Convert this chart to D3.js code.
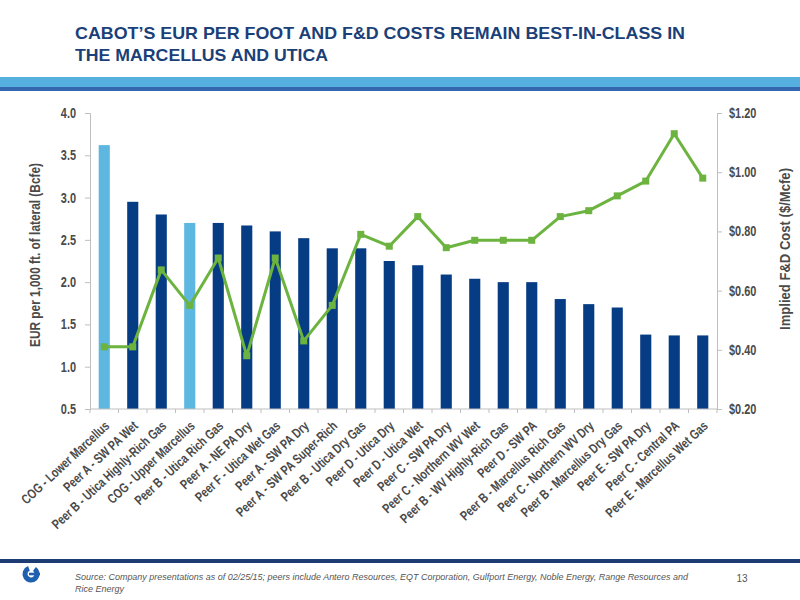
<!DOCTYPE html>
<html>
<head>
<meta charset="utf-8">
<script src="https://cdn.jsdelivr.net/npm/d3@7"></script>
<style>
  body { margin: 0; background: #fff; }
  svg { display: block; }
</style>
</head>
<body>
<div id="chart"></div>
<script>
/*global d3 */
// Well categories (x axis)
var categories = [
    "COG - Lower Marcellus", "Peer A - SW PA Wet", "Peer B - Utica Highly-Rich Gas",
    "COG - Upper Marcellus", "Peer B - Utica Rich Gas", "Peer A - NE PA Dry",
    "Peer F - Utica Wet Gas", "Peer A - SW PA Dry", "Peer A - SW PA Super-Rich",
    "Peer B - Utica Dry Gas", "Peer D - Utica Dry", "Peer D - Utica Wet",
    "Peer C - SW PA Dry", "Peer C - Northern WV Wet", "Peer B - WV Highly-Rich Gas",
    "Peer D - SW PA", "Peer B - Marcellus Rich Gas", "Peer C - Northern WV Dry",
    "Peer B - Marcellus Dry Gas", "Peer E - SW PA Dry", "Peer C - Central PA",
    "Peer E - Marcellus Wet Gas"
];
// EUR per 1,000 ft of lateral (Bcfe), bars
var eur = [3.62, 2.95, 2.80, 2.70, 2.70, 2.67, 2.60, 2.52, 2.40, 2.40, 2.25,
    2.20, 2.09, 2.04, 2.00, 2.00, 1.80, 1.74, 1.70, 1.38, 1.37, 1.37];
// Implied F&D cost ($/Mcfe), line
var fdCost = [0.41, 0.41, 0.67, 0.55, 0.71, 0.38, 0.71, 0.43, 0.55, 0.79, 0.75,
    0.85, 0.745, 0.77, 0.77, 0.77, 0.85, 0.87, 0.92, 0.97, 1.13, 0.98];
var leftTicks = [0.5, 1.0, 1.5, 2.0, 2.5, 3.0, 3.5, 4.0];
var rightTicks = [0.20, 0.40, 0.60, 0.80, 1.00, 1.20];

var width = 800,
    height = 600,
    margin = {top: 113, right: 83, bottom: 191, left: 90},
    widthInside = width - margin.left - margin.right,
    heightInside = height - margin.top - margin.bottom,
    navy = "#063c84",
    cogBlue = "#5db7e0",
    green = "#6cb33f",
    axisGrey = "#bfbfbf",
    textGrey = "#4a4a4a",
    font = "'Liberation Sans', Arial, sans-serif";

// squeeze text horizontally to mimic the condensed font of the slide
function condense(sel, k) {
    sel.each(function () {
        var len = this.getComputedTextLength();
        d3.select(this)
            .attr("textLength", len * k)
            .attr("lengthAdjust", "spacingAndGlyphs");
    });
}

var svg = d3.select("#chart").append("svg")
    .attr("width", width)
    .attr("height", height);

// Title
svg.append("text")
    .attr("x", 75).attr("y", 39)
    .attr("font-family", font)
    .attr("font-weight", "bold")
    .attr("font-size", 17)
    .attr("fill", "#1b3f78")
    .attr("textLength", 610)
    .attr("lengthAdjust", "spacingAndGlyphs")
    .text("CABOT\u2019S EUR PER FOOT AND F&D COSTS REMAIN BEST-IN-CLASS IN");
svg.append("text")
    .attr("x", 75).attr("y", 61)
    .attr("font-family", font)
    .attr("font-weight", "bold")
    .attr("font-size", 17)
    .attr("fill", "#1b3f78")
    .attr("textLength", 253)
    .attr("lengthAdjust", "spacingAndGlyphs")
    .text("THE MARCELLUS AND UTICA");

// Header bands
svg.append("rect").attr("x", 0).attr("y", 77).attr("width", width).attr("height", 10)
    .attr("fill", "#56b0df");
svg.append("rect").attr("x", 0).attr("y", 87).attr("width", width).attr("height", 4)
    .attr("fill", "#3566b0");

// Footer
svg.append("rect").attr("x", 0).attr("y", 559).attr("width", width).attr("height", 4)
    .attr("fill", "#1d3c74");
var logo = svg.append("g").attr("transform", "translate(31,574)");
logo.append("path")
    .attr("d", d3.arc().innerRadius(3.5).outerRadius(8.5).startAngle(0.6).endAngle(2 * Math.PI - 0.35)())
    .attr("fill", "#1f5fb0");
logo.append("rect").attr("x", -2).attr("y", -1.3).attr("width", 11).attr("height", 2.6)
    .attr("fill", "#1f5fb0");
svg.append("text")
    .attr("x", 75).attr("y", 580)
    .attr("font-family", font)
    .attr("font-style", "italic")
    .attr("font-size", 9)
    .attr("fill", "#555")
    .attr("textLength", 613)
    .attr("lengthAdjust", "spacingAndGlyphs")
    .text("Source: Company presentations as of 02/25/15; peers include Antero Resources, EQT Corporation, Gulfport Energy, Noble Energy, Range Resources and");
svg.append("text")
    .attr("x", 75).attr("y", 592)
    .attr("font-family", font)
    .attr("font-style", "italic")
    .attr("font-size", 9)
    .attr("fill", "#555")
    .text("Rice Energy");
svg.append("text")
    .attr("x", 742).attr("y", 582)
    .attr("text-anchor", "middle")
    .attr("font-family", font)
    .attr("font-size", 10)
    .attr("fill", "#555")
    .text("13");

var chart = svg.append("g")
    .attr("transform", "translate(" + margin.left + "," + margin.top + ")");

// Scales
var x = d3.scaleBand()
        .domain(categories)
        .range([0, widthInside])
        .paddingInner(0.61)
        .paddingOuter(0.305),
    xOuter = d3.scaleBand().domain(categories).range([0, widthInside]),
    yLeft = d3.scaleLinear().domain([0.5, 4.0]).range([heightInside, 0]),
    yRight = d3.scaleLinear().domain([0.2, 1.2]).range([heightInside, 0]);

// Bars
chart.selectAll(".bar")
    .data(categories)
    .enter().append("rect")
    .attr("class", "bar")
    .attr("x", function (d) { return x(d); })
    .attr("width", x.bandwidth())
    .attr("y", function (d, i) { return yLeft(eur[i]); })
    .attr("height", function (d, i) { return heightInside - yLeft(eur[i]); })
    .attr("fill", function (d) { return d.indexOf("COG") === 0 ? cogBlue : navy; });

// F&D line
var line = d3.line()
    .x(function (d, i) { return xOuter(categories[i]) + xOuter.bandwidth() / 2; })
    .y(function (d) { return yRight(d); });

chart.append("path")
    .datum(fdCost)
    .attr("fill", "none")
    .attr("stroke", green)
    .attr("stroke-width", 3)
    .attr("stroke-linejoin", "round")
    .attr("d", line);

chart.selectAll(".marker")
    .data(fdCost)
    .enter().append("rect")
    .attr("class", "marker")
    .attr("x", function (d, i) { return xOuter(categories[i]) + xOuter.bandwidth() / 2 - 3.5; })
    .attr("y", function (d) { return yRight(d) - 3.5; })
    .attr("width", 7)
    .attr("height", 7)
    .attr("fill", green);

// Axes
function styleAxis(g) {
    g.select(".domain").attr("stroke", axisGrey);
    g.selectAll(".tick line").attr("stroke", axisGrey);
    g.selectAll(".tick text")
        .attr("font-family", font)
        .attr("font-weight", "bold")
        .attr("font-size", 14)
        .attr("fill", textGrey)
        .call(condense, 0.78);
}

chart.append("g")
    .call(d3.axisLeft(yLeft).tickValues(leftTicks).tickFormat(d3.format(".1f"))
        .tickSizeOuter(0).tickSize(5).tickPadding(9))
    .call(styleAxis);

chart.append("g")
    .attr("transform", "translate(" + widthInside + ",0)")
    .call(d3.axisRight(yRight).tickValues(rightTicks).tickFormat(d3.format("$.2f"))
        .tickSizeOuter(0).tickSize(5).tickPadding(7))
    .call(styleAxis);

var xAxis = chart.append("g")
    .attr("transform", "translate(0," + heightInside + ")");
xAxis.append("line")
    .attr("x1", 0).attr("x2", widthInside)
    .attr("stroke", axisGrey);
xAxis.selectAll(".xtick")
    .data(categories.concat([null]))
    .enter().append("line")
    .attr("class", "xtick")
    .attr("x1", function (d, i) { return i * xOuter.step(); })
    .attr("x2", function (d, i) { return i * xOuter.step(); })
    .attr("y1", 0).attr("y2", 4)
    .attr("stroke", axisGrey);
xAxis.selectAll(".xlabel")
    .data(categories)
    .enter().append("text")
    .attr("class", "xlabel")
    .attr("transform", function (d) {
        return "translate(" + (xOuter(d) + xOuter.bandwidth() / 2 + 6) + ",18) rotate(-43)";
    })
    .attr("text-anchor", "end")
    .attr("font-family", font)
    .attr("font-weight", "bold")
    .attr("font-size", 13.5)
    .attr("fill", textGrey)
    .text(function (d) { return d; })
    .call(condense, 0.77);

// Axis titles
chart.append("text")
    .attr("transform", "rotate(-90)")
    .attr("x", -(heightInside / 2) + 6)
    .attr("y", -50)
    .attr("text-anchor", "middle")
    .attr("font-family", font)
    .attr("font-weight", "bold")
    .attr("font-size", 15)
    .attr("fill", textGrey)
    .attr("textLength", 184)
    .attr("lengthAdjust", "spacingAndGlyphs")
    .text("EUR per 1,000 ft. of lateral (Bcfe)");

chart.append("text")
    .attr("transform", "rotate(-90)")
    .attr("x", -(heightInside / 2) + 12)
    .attr("y", widthInside + 73)
    .attr("text-anchor", "middle")
    .attr("font-family", font)
    .attr("font-weight", "bold")
    .attr("font-size", 14)
    .attr("fill", textGrey)
    .attr("textLength", 162)
    .attr("lengthAdjust", "spacingAndGlyphs")
    .text("Implied F&D Cost ($/Mcfe)");
</script>
</body>
</html>
